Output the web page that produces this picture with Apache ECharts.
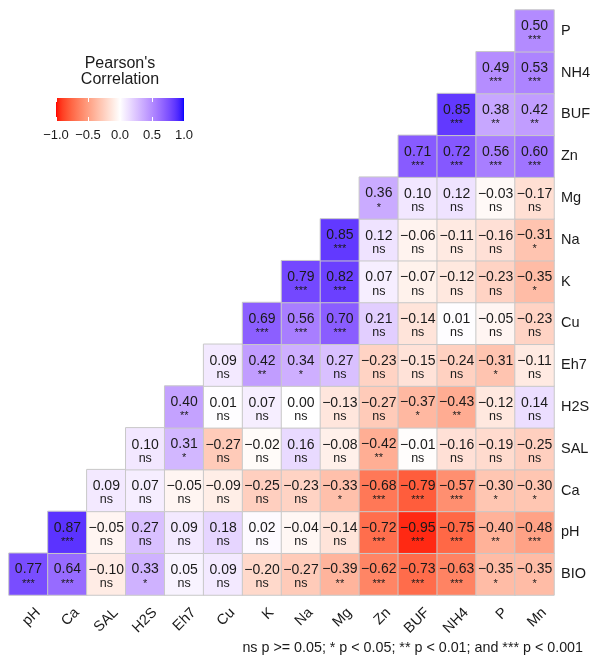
<!DOCTYPE html>
<html>
<head>
<meta charset="utf-8">
<script src="https://cdn.jsdelivr.net/npm/echarts@6/dist/echarts.min.js"></script>
<style>
  html, body { margin: 0; padding: 0; background: #fff; }
  #chart { width: 593px; height: 659px; }
</style>
</head>
<body>
<div id="chart"></div>
<script>
// Variables along the bottom axis (left to right)
const xVars = ['pH', 'Ca', 'SAL', 'H2S', 'Eh7', 'Cu', 'K', 'Na', 'Mg', 'Zn', 'BUF', 'NH4', 'P', 'Mn'];
// Variables along the right axis (bottom to top)
const yVars = ['BIO', 'pH', 'Ca', 'SAL', 'H2S', 'Eh7', 'Cu', 'K', 'Na', 'Mg', 'Zn', 'BUF', 'NH4', 'P'];

// Pearson coefficients; row k belongs to yVars[k] and starts at xVars[k]
const corrRows = [
  [0.77, 0.64, -0.10, 0.33, 0.05, 0.09, -0.20, -0.27, -0.39, -0.62, -0.73, -0.63, -0.35, -0.35],
  [0.87, -0.05, 0.27, 0.09, 0.18, 0.02, -0.04, -0.14, -0.72, -0.95, -0.75, -0.40, -0.48],
  [0.09, 0.07, -0.05, -0.09, -0.25, -0.23, -0.33, -0.68, -0.79, -0.57, -0.30, -0.30],
  [0.10, 0.31, -0.27, -0.02, 0.16, -0.08, -0.42, -0.01, -0.16, -0.19, -0.25],
  [0.40, 0.01, 0.07, 0.00, -0.13, -0.27, -0.37, -0.43, -0.12, 0.14],
  [0.09, 0.42, 0.34, 0.27, -0.23, -0.15, -0.24, -0.31, -0.11],
  [0.69, 0.56, 0.70, 0.21, -0.14, 0.01, -0.05, -0.23],
  [0.79, 0.82, 0.07, -0.07, -0.12, -0.23, -0.35],
  [0.85, 0.12, -0.06, -0.11, -0.16, -0.31],
  [0.36, 0.10, 0.12, -0.03, -0.17],
  [0.71, 0.72, 0.56, 0.60],
  [0.85, 0.38, 0.42],
  [0.49, 0.53],
  [0.50]
];

// Significance codes, same layout as corrRows
const sigRows = [
  ['***', '***', 'ns', '*', 'ns', 'ns', 'ns', 'ns', '**', '***', '***', '***', '*', '*'],
  ['***', 'ns', 'ns', 'ns', 'ns', 'ns', 'ns', 'ns', '***', '***', '***', '**', '***'],
  ['ns', 'ns', 'ns', 'ns', 'ns', 'ns', '*', '***', '***', '***', '*', '*'],
  ['ns', '*', 'ns', 'ns', 'ns', 'ns', '**', 'ns', 'ns', 'ns', 'ns'],
  ['**', 'ns', 'ns', 'ns', 'ns', 'ns', '*', '**', 'ns', 'ns'],
  ['ns', '**', '*', 'ns', 'ns', 'ns', 'ns', '*', 'ns'],
  ['***', '***', '***', 'ns', 'ns', 'ns', 'ns', 'ns'],
  ['***', '***', 'ns', 'ns', 'ns', 'ns', '*'],
  ['***', 'ns', 'ns', 'ns', 'ns', '*'],
  ['*', 'ns', 'ns', 'ns', 'ns'],
  ['***', '***', '***', '***'],
  ['***', '**', '**'],
  ['***', '***'],
  ['***']
];

const legendTicks = [-1, -0.5, 0, 0.5, 1];
const footnote = 'ns p >= 0.05; * p < 0.05; ** p < 0.01; and *** p < 0.001';

const FONT = '"Liberation Sans", Arial, Helvetica, sans-serif';
const TEXT = '#1a1a1a';

// ---- diverging red / white / blue scale, interpolated in CIE Lab ----
function srgbToLin(c) { c /= 255; return c <= 0.04045 ? c / 12.92 : Math.pow((c + 0.055) / 1.055, 2.4); }
function linToSrgb(c) { const v = c <= 0.0031308 ? 12.92 * c : 1.055 * Math.pow(c, 1 / 2.4) - 0.055; return Math.max(0, Math.min(255, Math.round(v * 255))); }
const WX = 0.95047, WY = 1.0, WZ = 1.08883;
function rgbToLab(rgb) {
  const r = srgbToLin(rgb[0]), g = srgbToLin(rgb[1]), b = srgbToLin(rgb[2]);
  const X = (0.4124 * r + 0.3576 * g + 0.1805 * b) / WX;
  const Y = (0.2126 * r + 0.7152 * g + 0.0722 * b) / WY;
  const Z = (0.0193 * r + 0.1192 * g + 0.9505 * b) / WZ;
  const f = t => t > 0.008856 ? Math.cbrt(t) : 7.787 * t + 16 / 116;
  const fx = f(X), fy = f(Y), fz = f(Z);
  return [116 * fy - 16, 500 * (fx - fy), 200 * (fy - fz)];
}
function labToRgb(lab) {
  const fy = (lab[0] + 16) / 116, fx = fy + lab[1] / 500, fz = fy - lab[2] / 200;
  const finv = t => t > 0.206893 ? t * t * t : (t - 16 / 116) / 7.787;
  const X = finv(fx) * WX, Y = finv(fy) * WY, Z = finv(fz) * WZ;
  const r = 3.2406 * X - 1.5372 * Y - 0.4986 * Z;
  const g = -0.9689 * X + 1.8758 * Y + 0.0415 * Z;
  const b = 0.0557 * X - 0.2040 * Y + 1.0570 * Z;
  return [linToSrgb(r), linToSrgb(g), linToSrgb(b)];
}
const LAB_LOW = rgbToLab([255, 0, 0]);
const LAB_MID = rgbToLab([255, 255, 255]);
const LAB_HIGH = rgbToLab([0, 0, 255]);
function scaleColor(v) {
  const end = v < 0 ? LAB_LOW : LAB_HIGH;
  const t = Math.min(1, Math.abs(v));
  const lab = LAB_MID.map((m, i) => m + t * (end[i] - m));
  const c = labToRgb(lab);
  return 'rgb(' + c[0] + ',' + c[1] + ',' + c[2] + ')';
}
const STOP_COUNT = 81;
const scaleStops = [];
for (let i = 0; i < STOP_COUNT; i++) scaleStops.push(scaleColor(-1 + 2 * i / (STOP_COUNT - 1)));

// ---- heatmap cells ----
const fmt = (v, d) => v.toFixed(d).replace('-', '\u2212');
const cells = [];
corrRows.forEach((row, k) => {
  row.forEach((v, j) => {
    cells.push({ value: [k + j, k, v], sig: sigRows[k][j] });
  });
});

const chart = echarts.init(document.getElementById('chart'), null, { renderer: 'canvas' });

chart.setOption({
  animation: false,
  backgroundColor: '#ffffff',
  textStyle: { fontFamily: FONT },
  grid: [
    { left: 9, top: 10, width: 549, height: 585 },
    { left: 56, top: 98, width: 128, height: 23 }
  ],
  xAxis: [
    {
      type: 'category', data: xVars, gridIndex: 0,
      axisLine: { show: false }, axisTick: { show: false }, splitLine: { show: false },
      axisLabel: {
        rotate: 45, margin: 3, verticalAlign: 'top', padding: [8, 2, 0, 0],
        fontSize: 14.5, color: TEXT, fontFamily: FONT, interval: 0
      }
    },
    {
      type: 'value', gridIndex: 1, min: -1, max: 1, interval: 0.5, z: 10,
      axisLine: { show: false }, splitLine: { show: false },
      axisTick: { show: true, inside: true, length: 4, lineStyle: { color: '#ffffff', width: 1 } },
      axisLabel: {
        margin: 8, fontSize: 13, color: TEXT, fontFamily: FONT, showMinLabel: true, showMaxLabel: true,
        formatter: v => fmt(v, 1)
      }
    },
    {
      type: 'value', gridIndex: 1, min: -1, max: 1, interval: 0.5, position: 'top', z: 10,
      axisLine: { show: false }, splitLine: { show: false }, axisLabel: { show: false },
      axisTick: { show: true, inside: true, length: 4, lineStyle: { color: '#ffffff', width: 1 } }
    }
  ],
  yAxis: [
    {
      type: 'category', data: yVars, gridIndex: 0, position: 'right',
      axisLine: { show: false }, axisTick: { show: false }, splitLine: { show: false },
      axisLabel: { margin: 7, fontSize: 14.5, color: TEXT, fontFamily: FONT, interval: 0 }
    },
    { type: 'value', gridIndex: 1, min: 0, max: 1, show: false }
  ],
  visualMap: {
    type: 'continuous', show: false, min: -1, max: 1, dimension: 2, seriesIndex: 0,
    inRange: { color: scaleStops }
  },
  series: [
    {
      type: 'heatmap',
      xAxisIndex: 0, yAxisIndex: 0,
      data: cells,
      itemStyle: { borderColor: '#c8c8c8', borderWidth: 1 },
      emphasis: { disabled: true },
      label: {
        show: true,
        offset: [0, 2],
        formatter: p => '{v|' + fmt(p.value[2], 2) + '}\n{' + (p.data.sig === 'ns' ? 'n' : 's') + '|' + p.data.sig + '}',
        rich: {
          v: { fontSize: 14, lineHeight: 15, color: TEXT, fontFamily: FONT },
          n: { fontSize: 12.5, lineHeight: 12, color: TEXT, fontFamily: FONT },
          s: { fontSize: 11, lineHeight: 13, color: TEXT, fontFamily: FONT }
        }
      }
    },
    {
      // colour bar of the legend
      type: 'custom',
      xAxisIndex: 1, yAxisIndex: 1,
      silent: true, z: 1,
      data: [[legendTicks[0], legendTicks[legendTicks.length - 1]]],
      renderItem: (params, api) => {
        const p0 = api.coord([api.value(0), 1]);
        const p1 = api.coord([api.value(1), 0]);
        return {
          type: 'rect',
          shape: { x: p0[0], y: p0[1], width: p1[0] - p0[0], height: p1[1] - p0[1] },
          style: {
            fill: new echarts.graphic.LinearGradient(0, 0, 1, 0,
              scaleStops.map((c, i) => ({ offset: i / (STOP_COUNT - 1), color: c })))
          }
        };
      }
    }
  ],
  graphic: [
    {
      type: 'text', x: 120, y: 55,
      style: {
        text: "Pearson's\nCorrelation", x: 0, y: 0, align: 'center', verticalAlign: 'top',
        fontSize: 16, lineHeight: 16.5, fill: TEXT, fontFamily: FONT
      }
    },
    {
      type: 'text', x: 583, y: 648,
      style: {
        text: footnote, x: 0, y: 0, align: 'right', verticalAlign: 'middle',
        fontSize: 14.3, fill: TEXT, fontFamily: FONT
      }
    }
  ]
});
</script>
</body>
</html>
